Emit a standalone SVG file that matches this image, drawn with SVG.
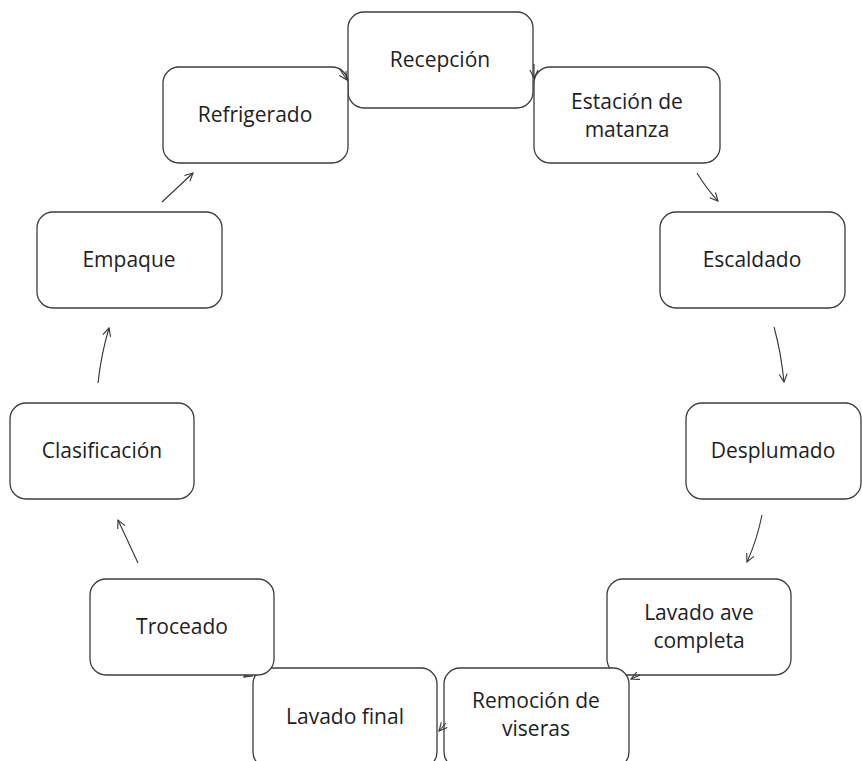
<svg xmlns="http://www.w3.org/2000/svg" width="862" height="761" viewBox="0 0 862 761">
<style>
.box{fill:#fff;stroke:#3c3c3c;stroke-width:1.3}
.t{font-family:"Open Sans","Liberation Sans",sans-serif;font-size:21px;fill:#1e1e1e;text-anchor:middle}
.c{fill:none;stroke:#333;stroke-width:1.1}
</style>
<defs>
<marker id="ah" viewBox="0 0 10 10" refX="9" refY="5" markerWidth="10" markerHeight="10" orient="auto" markerUnits="userSpaceOnUse">
<path d="M1,1 L9,5 L1,9" fill="none" stroke="#333" stroke-width="1.1"/>
</marker>
</defs>
<rect width="862" height="761" fill="#fff"/>
<g id="connectors-under">
<path class="c" d="M253,671 L244,677" marker-end="url(#ah)"/>
</g>
<g id="n1"><rect class="box" x="348" y="12" width="185" height="96" rx="16"/><text class="t" x="440" y="67">Recepción</text></g>
<g id="n2"><rect class="box" x="534" y="67" width="186" height="96" rx="16"/><text class="t" x="627" y="109">Estación de</text><text class="t" x="627" y="137">matanza</text></g>
<g id="n3"><rect class="box" x="660" y="212" width="185" height="96" rx="16"/><text class="t" x="752" y="267">Escaldado</text></g>
<g id="n4"><rect class="box" x="686" y="403" width="175" height="96" rx="16"/><text class="t" x="773" y="458">Desplumado</text></g>
<g id="n5"><rect class="box" x="607" y="579" width="184" height="96" rx="16"/><text class="t" x="699" y="620">Lavado ave</text><text class="t" x="699" y="648">completa</text></g>
<g id="n6"><rect class="box" x="444" y="668" width="185" height="100" rx="16"/><text class="t" x="536" y="708">Remoción de</text><text class="t" x="536" y="736">viseras</text></g>
<g id="n7"><rect class="box" x="253" y="668" width="184" height="100" rx="16"/><text class="t" x="345" y="724">Lavado final</text></g>
<g id="n8"><rect class="box" x="90" y="579" width="184" height="96" rx="16"/><text class="t" x="182" y="634">Troceado</text></g>
<g id="n9"><rect class="box" x="10" y="403" width="184" height="96" rx="16"/><text class="t" x="102" y="458">Clasificación</text></g>
<g id="n10"><rect class="box" x="37" y="212" width="185" height="96" rx="16"/><text class="t" x="129" y="267">Empaque</text></g>
<g id="n11"><rect class="box" x="163" y="67" width="185" height="96" rx="16"/><text class="t" x="255" y="122">Refrigerado</text></g>
<g id="connectors">
<path class="c" d="M339,68 L347,80" marker-end="url(#ah)"/>
<path class="c" d="M534,64 L534,78" marker-end="url(#ah)"/>
<path class="c" d="M697,173 Q706,188 718,201" marker-end="url(#ah)"/>
<path class="c" d="M774,327 Q781,352 784,382" marker-end="url(#ah)"/>
<path class="c" d="M762,515 Q757,540 747,562" marker-end="url(#ah)"/>
<path class="c" d="M640,675 L631,679" marker-end="url(#ah)"/>
<path class="c" d="M446,723 L439,731" marker-end="url(#ah)"/>
<path class="c" d="M138,563 L118,520" marker-end="url(#ah)"/>
<path class="c" d="M98,383 Q101,355 109,328" marker-end="url(#ah)"/>
<path class="c" d="M162,202 L193,173" marker-end="url(#ah)"/>
</g>
</svg>
